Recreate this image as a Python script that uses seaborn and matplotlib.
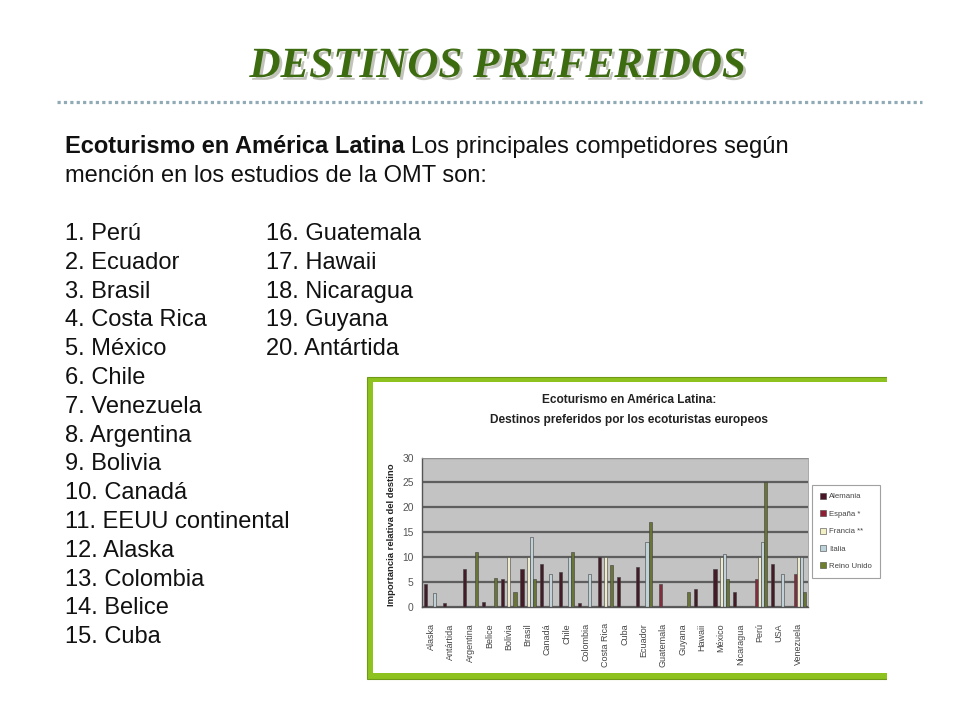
import numpy as np
import pandas as pd
import matplotlib
matplotlib.use("Agg")
import matplotlib.pyplot as plt
import matplotlib.patheffects as pe
import seaborn as sns
from matplotlib.patches import Rectangle
from matplotlib.lines import Line2D

# Datos del gráfico (aproximados)
destinos = ["Alaska", "Antártida", "Argentina", "Belice", "Bolivia", "Brasil",
            "Canadá", "Chile", "Colombia", "Costa Rica", "Cuba", "Ecuador",
            "Guatemala", "Guyana", "Hawaii", "México", "Nicaragua", "Perú",
            "USA", "Venezuela"]
paises = ["Alemania", "España *", "Francia **", "Italia", "Reino Unido"]
n = np.nan
alemania = [4.5, 0.7, 7.5, 1.0, 5.5, 7.5, 8.5, 7.0, 0.7, 10.0,
            6.0, 8.0, n, n, 3.5, 7.5, 3.0, n, 8.5, n]
espana = [n, n, n, n, n, n, n, n, n, n,
          n, n, 4.5, n, n, n, n, 5.5, n, 6.5]
francia = [n, n, n, n, 10.0, 10.0, n, n, n, 10.0,
           n, n, n, n, n, 10.0, n, 10.0, n, 10.0]
italia = [2.7, n, n, n, n, 14.0, 6.5, 10.0, 6.5, n,
          n, 13.0, n, n, n, 10.5, n, 13.0, 6.5, 10.0]
reino_unido = [n, n, 11.0, 5.7, 3.0, 5.5, n, 11.0, n, 8.3,
               n, 17.0, n, 3.0, n, 5.5, n, 25.0, n, 3.0]

lista_izq = ["1. Perú", "2. Ecuador", "3. Brasil", "4. Costa Rica", "5. México",
             "6. Chile", "7. Venezuela", "8. Argentina", "9. Bolivia", "10. Canadá",
             "11. EEUU continental", "12. Alaska", "13. Colombia", "14. Belice",
             "15. Cuba"]
lista_der = ["16. Guatemala", "17. Hawaii", "18. Nicaragua", "19. Guyana",
             "20. Antártida"]

colores = {"Alemania": "#4a1526", "España *": "#8e1f35", "Francia **": "#f4f0c6",
           "Italia": "#bcd3dc", "Reino Unido": "#6e7f2c"}

valores = [alemania, espana, francia, italia, reino_unido]
df = pd.DataFrame({
    "destino": destinos * len(paises),
    "pais": [p for p in paises for _ in destinos],
    "valor": [v for serie in valores for v in serie],
})

sns.set_style("white")
plt.rcParams["font.family"] = ["Liberation Sans", "DejaVu Sans"]

W, H = 960, 720
fig = plt.figure(figsize=(W / 100, H / 100), dpi=100)


def px(x, y):
    return x / W, 1 - y / H


# Título de la diapositiva con sombra
fig.text(*px(497, 77), "DESTINOS PREFERIDOS", family="Liberation Serif",
         weight="bold", style="italic", fontsize=31, color="#3d6b10",
         ha="center", va="baseline",
         path_effects=[pe.SimplePatchShadow(offset=(2, -2), shadow_rgbFace="#a8ab9e",
                                            alpha=0.7), pe.Normal()])

# Línea punteada
fig.add_artist(Line2D([57 / W, 922 / W], [1 - 102 / H] * 2, transform=fig.transFigure,
                      color="#90aab6", lw=2.3, linestyle=(0, (1, 1)),
                      solid_capstyle="butt", dash_capstyle="butt"))

# Texto principal
fs = 17
renderer = fig.canvas.get_renderer()
t_bold = fig.text(*px(65, 153), "Ecoturismo en América Latina", weight="bold",
                  fontsize=fs, va="baseline", color="#111111")
bb = t_bold.get_window_extent(renderer)
fig.text((bb.x1 + 6) / W, 1 - 153 / H, "Los principales competidores según",
         fontsize=fs, va="baseline", color="#111111")
fig.text(*px(65, 182), "mención en los estudios de la OMT son:",
         fontsize=fs, va="baseline", color="#111111")

for i, s in enumerate(lista_izq):
    fig.text(*px(65, 240 + 28.8 * i), s, fontsize=fs, va="baseline", color="#111111")
for i, s in enumerate(lista_der):
    fig.text(*px(266, 240 + 28.8 * i), s, fontsize=fs, va="baseline", color="#111111")

# Marco verde de la imagen del gráfico
fig.add_artist(Rectangle(px(367, 679), 540 / W, 302 / H, transform=fig.transFigure,
                         facecolor="#8dc21f", edgecolor="#6f9a18", lw=0.8, zorder=-2))
fig.add_artist(Rectangle(px(373, 673), 540 / W, 291 / H, transform=fig.transFigure,
                         facecolor="white", edgecolor="none", zorder=-1))

fig.text(*px(629, 400), "Ecoturismo en América Latina:", weight="bold",
         fontsize=8.6, ha="center", va="center", color="#222222")
fig.text(*px(629, 420), "Destinos preferidos por los ecoturistas europeos",
         weight="bold", fontsize=8.6, ha="center", va="center", color="#222222")

# Gráfico de barras
x0, x1, y0, y1 = 422, 808, 457.5, 606.6
ax = fig.add_axes([x0 / W, 1 - y1 / H, (x1 - x0) / W, (y1 - y0) / H])
ax.set_facecolor("#c3c3c3")
sns.barplot(data=df, x="destino", y="valor", hue="pais", order=destinos,
            hue_order=paises, palette=colores, width=0.8, errorbar=None,
            edgecolor="#3e3e3e", linewidth=0.4, legend=False, ax=ax)
ax.set_ylim(0, 30)
ax.set_yticks(range(0, 31, 5))
ax.set_xlim(-0.5, len(destinos) - 0.5)
ax.yaxis.grid(True, color="#5e5e5e", lw=1.6)
ax.set_axisbelow(True)
ax.set_xlabel("")
ax.set_ylabel("")
for side in ["top", "right"]:
    ax.spines[side].set_color("#9a9a9a")
    ax.spines[side].set_linewidth(0.6)
for side in ["left", "bottom"]:
    ax.spines[side].set_color("#555555")
    ax.spines[side].set_linewidth(1.0)
ax.tick_params(axis="y", labelsize=7.4, colors="#555555", length=2, pad=4)
ax.tick_params(axis="x", labelsize=6.5, colors="#444444", length=0, pad=12)
ax.set_xticks(range(len(destinos)))
ax.set_xticklabels(destinos, rotation=90)
fig.text(*px(392, 535), "Importancia relativa del destino", rotation=90,
         weight="bold", fontsize=6.8, ha="center", va="center", color="#222222")

handles = [Rectangle((0, 0), 1, 1, facecolor=colores[p], edgecolor="#444444", lw=0.4)
           for p in paises]
leg = fig.legend(handles, paises, loc="upper left", bbox_to_anchor=px(812, 485),
                 bbox_transform=fig.transFigure, fontsize=5.6, frameon=True,
                 fancybox=False, edgecolor="#8a8a8a", labelspacing=1.25,
                 handlelength=0.8, handleheight=0.8, handletextpad=0.4,
                 borderpad=1.0, borderaxespad=0)
leg.get_frame().set_linewidth(0.8)
for t in leg.get_texts():
    t.set_color("#444444")

# La imagen del gráfico está recortada por la derecha
fig.add_artist(Rectangle(px(887, 690), 80 / W, 330 / H, transform=fig.transFigure,
                         facecolor="white", edgecolor="none", zorder=10))

fig.savefig("out.png", dpi=100)
